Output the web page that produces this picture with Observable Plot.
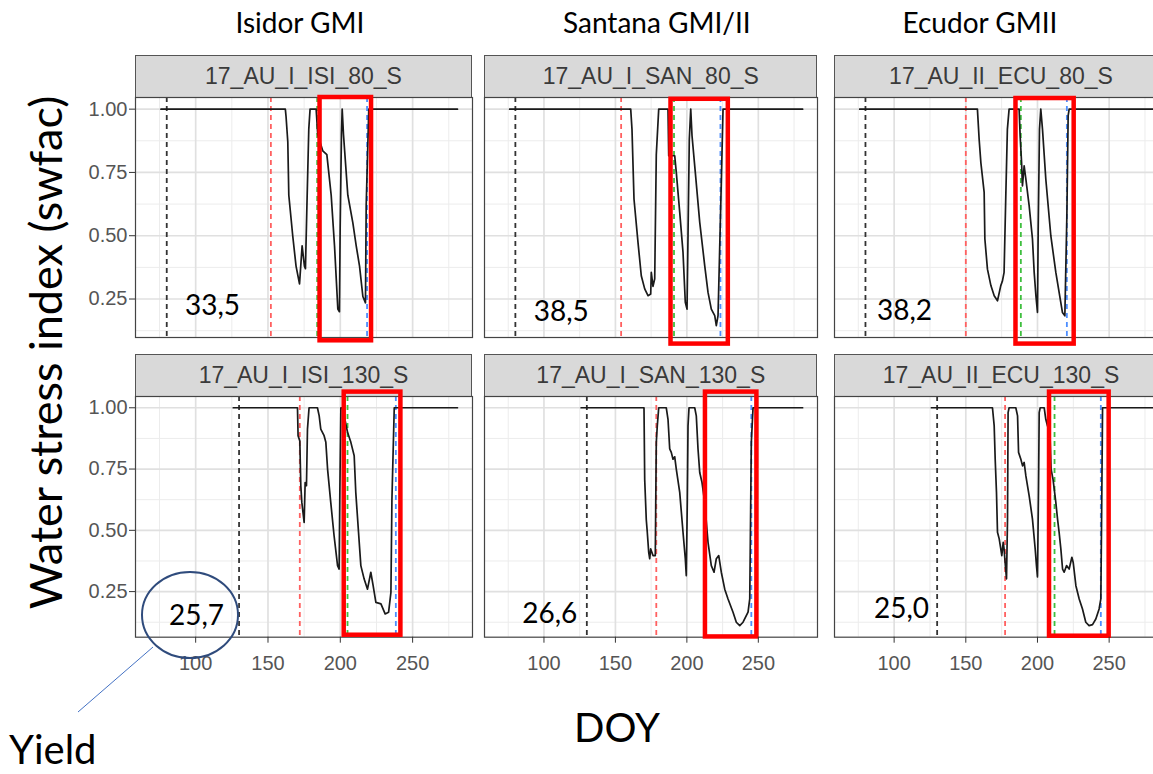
<!DOCTYPE html>
<html><head><meta charset="utf-8">
<script src="https://cdn.jsdelivr.net/npm/d3@7"></script>
<script src="https://cdn.jsdelivr.net/npm/@observablehq/plot@0.6"></script>
<style>
body{margin:0;background:#fff;}
#wrap{position:relative;width:1153px;height:774px;overflow:hidden;background:#fff;}
.strip{position:absolute;box-sizing:border-box;background:#d9d9d9;border:1px solid #555;display:flex;align-items:center;justify-content:center;font-family:"Liberation Sans",Arial,sans-serif;font-size:23px;color:#3a3a3a;white-space:nowrap;overflow:visible;}
.big{position:absolute;font-family:Lato,"Open Sans",sans-serif;color:#000;white-space:nowrap;line-height:1;}
.plotbox{position:absolute;}
.plotbox svg{max-width:none !important;}
</style></head><body><div id="wrap"></div>
<script>
// ---------- data ----------
const columnTitles = ["Isidor GMI", "Santana GMI/II", "Ecudor GMII"];
const panelNames = ["17_AU_I_ISI_80_S", "17_AU_I_SAN_80_S", "17_AU_II_ECU_80_S",
                    "17_AU_I_ISI_130_S", "17_AU_I_SAN_130_S", "17_AU_II_ECU_130_S"];
const yieldLabels = ["33,5", "38,5", "38,2", "25,7", "26,6", "25,0"];
const xTicks = [100, 150, 200, 250];
const xMinor = [75, 125, 175, 225, 275];
const yTicks = [0.25, 0.5, 0.75, 1.0];
const yMinor = [0.125, 0.375, 0.625, 0.875];
const sowingDOY = [80, 80, 80, 130, 130, 130];
const redLineDOY = [152, 154, 150, 172, 178.6, 177.4];
const greenLineDOY = [184, 191, 188.4, 205, 213, 211.9];
const blueLineDOY = [218.5, 223.5, 220.5, 238.4, 245.1, 244.2];
const boxStartDOY = [186, 188.9, 185, 202.7, 213, 208.4];
const boxEndDOY = [221.6, 229, 225.6, 241.9, 249, 250];
const boxLow = [0.085, 0.072, 0.072, 0.072, 0.065, 0.068];
const boxHigh = [1.046, 1.039, 1.042, 1.064, 1.064, 1.064];

const isi80 = [[76,1],[162,1],[162.5,0.97],[163.7,0.87],[164.4,0.66],[167.1,0.5],[169.4,0.38],[171.8,0.31],[173.6,0.46],[175.2,0.38],[175.9,0.37],[176.8,0.59],[178.2,0.92],[179.1,1],[183.3,1],[184.4,0.9],[187.9,0.835],[190.7,0.82],[193.7,0.66],[196,0.46],[198.3,0.21],[199.4,0.2],[199.9,0.53],[200.8,0.9],[201.3,1],[202.2,0.9],[205.2,0.66],[208.7,0.55],[211,0.46],[213.3,0.38],[215.6,0.26],[217.4,0.235],[217.9,0.62],[219.7,1],[281,1]];
const san80 = [[76,1],[160.7,1],[161.6,0.92],[163,0.645],[165.8,0.474],[168.1,0.342],[170.5,0.29],[172.8,0.263],[174.7,0.27],[175.1,0.355],[176.3,0.3],[177.5,0.33],[178.6,0.82],[180.3,1],[186.8,1],[187.3,0.816],[191.5,0.816],[192.6,0.75],[195,0.592],[197.3,0.434],[198.9,0.237],[200.1,0.21],[200.8,0.5],[201.7,0.88],[202.7,1],[203.6,0.895],[205.9,0.75],[209,0.553],[212.5,0.381],[214.8,0.276],[217.1,0.21],[219.5,0.184],[220.6,0.145],[221.8,0.184],[223.7,0.618],[225.3,1],[281,1]];
const ecu80 = [[76,1],[158.1,1],[159.3,0.881],[160.5,0.789],[162.8,0.671],[163.3,0.487],[165.1,0.368],[167.5,0.303],[169.8,0.263],[172.1,0.243],[174.4,0.303],[175.5,0.32],[176.7,0.355],[177.9,0.658],[179,0.92],[180.2,1],[187.2,1],[187.9,0.895],[188.9,0.79],[189.5,0.697],[190.7,0.776],[191.9,0.724],[194.2,0.618],[196.5,0.487],[197.7,0.355],[198.9,0.263],[200,0.197],[200.5,0.526],[201.4,0.92],[202.3,1],[203.5,0.92],[205.8,0.724],[209.3,0.5],[212.8,0.355],[215.1,0.276],[217.4,0.197],[219.1,0.184],[220.5,0.579],[221.4,0.974],[222.1,1],[281,1]];
const isi130 = [[126,1],[170.4,1],[170.8,0.886],[172,0.865],[172.7,0.682],[173.4,0.614],[175,0.532],[175.7,0.695],[176.6,0.682],[177.3,0.913],[178.4,1],[184.2,1],[185.4,0.967],[186.5,0.913],[188.8,0.886],[190,0.859],[191.2,0.75],[193.4,0.614],[195.7,0.478],[198.1,0.356],[199.2,0.342],[199.7,0.668],[200.4,1],[201.5,1],[205,0.9],[207.3,0.859],[209.6,0.804],[210.7,0.655],[212.6,0.492],[214.2,0.356],[216.5,0.301],[218.8,0.26],[221.1,0.329],[222.7,0.274],[224.6,0.206],[228.1,0.2],[231,0.159],[233.4,0.166],[235,0.247],[235.7,0.627],[237.3,1],[281,1]];
const san130 = [[126,1],[170,1],[170.5,0.706],[171.6,0.543],[172.3,0.492],[173.3,0.41],[174,0.384],[174.7,0.424],[176.3,0.397],[177.9,0.397],[178.6,0.859],[179.3,0.926],[180.3,1],[185.6,1],[186.8,0.953],[188,0.832],[189.1,0.818],[190.3,0.79],[191.5,0.8],[192.6,0.75],[195,0.655],[197.3,0.492],[198.9,0.384],[199.6,0.315],[200.3,0.614],[200.8,0.926],[201.5,1],[205.5,1],[206.6,0.967],[207.8,0.832],[209,0.736],[210.6,0.695],[212.5,0.614],[214.8,0.451],[217.1,0.356],[219,0.329],[220.6,0.384],[222.3,0.397],[224.1,0.329],[226.5,0.26],[228.8,0.22],[232.3,0.166],[234.6,0.125],[237,0.111],[239.3,0.125],[242.8,0.166],[244,0.22],[245.1,0.859],[246.3,1],[281,1]];
const ecu130 = [[126,1],[168.6,1],[169.8,0.926],[170.5,0.79],[171.4,0.655],[172.1,0.492],[173.3,0.465],[174.4,0.424],[175.1,0.397],[176.1,0.451],[176.7,0.424],[177.4,0.37],[178.4,0.302],[179.1,0.546],[179.5,0.98],[180.2,1],[184.9,1],[186.1,0.967],[186.8,0.818],[188.4,0.79],[189.6,0.763],[190.7,0.777],[191.9,0.722],[194.2,0.641],[196.5,0.546],[198.4,0.424],[199.3,0.356],[200,0.31],[200.7,0.655],[201.2,0.98],[201.9,1],[204.7,1],[205.8,0.953],[207,0.926],[208.5,0.93],[209.5,0.75],[210.9,0.706],[212.8,0.614],[214,0.546],[215.1,0.492],[216.3,0.424],[217.5,0.342],[218.6,0.329],[220.3,0.356],[222.1,0.342],[224,0.39],[224.9,0.37],[226.8,0.274],[229.1,0.22],[231.4,0.179],[233.7,0.125],[236,0.111],[238.4,0.115],[240.7,0.138],[243,0.179],[244.2,0.22],[244.9,0.655],[245.4,1],[281,1]];
const seriesList = [isi80, san80, ecu80, isi130, san130, ecu130];

// ---------- layout (pixels, styles) ----------
const colLeft = [135, 484.3, 834];
const colWidth = [337, 333, 334];
const rowTop = [96.7, 396];
const rowHeight = [240, 240.7];
const stripTop = [55, 354];
const xDomain = [58.4, 291.4];
const yDomains = [[0.098, 1.046], [0.064, 1.046]];
const yieldDx = [77, 76.7, 70, 61, 65.2, 67];
const yieldDy = [-31.7, -25, -26.7, -20.7, -23.4, -28.4];
const ML = 60, MB = 50, MT = 12, MR = 8;

const wrap = document.getElementById("wrap");

function addDiv(cls, text, css) {
  const d = document.createElement("div");
  d.className = cls;
  d.textContent = text;
  Object.assign(d.style, css);
  wrap.appendChild(d);
  return d;
}

// strips
panelNames.forEach((name, i) => {
  const r = Math.floor(i / 3), c = i % 3;
  addDiv("strip", name, {
    left: colLeft[c] + "px", top: stripTop[r] + "px",
    width: colWidth[c] + "px", height: (rowTop[r] - stripTop[r] + 1) + "px"
  });
});

// panels
panelNames.forEach((name, i) => {
  const r = Math.floor(i / 3), c = i % 3;
  const W = colWidth[c], H = rowHeight[r];
  const pts = seriesList[i].map(([doy, swfac]) => ({doy, swfac}));
  const box = [{x1: boxStartDOY[i], x2: boxEndDOY[i], y1: boxLow[i], y2: boxHigh[i]}];
  const marks = [
    Plot.ruleX(xMinor, {stroke: "#ececec", strokeWidth: 1}),
    Plot.ruleY(yMinor, {stroke: "#ececec", strokeWidth: 1}),
    Plot.ruleX(xTicks, {stroke: "#e0e0e0", strokeWidth: 1.7}),
    Plot.ruleY(yTicks, {stroke: "#e0e0e0", strokeWidth: 1.7}),
    Plot.ruleX([sowingDOY[i]], {stroke: "#333", strokeWidth: 1.8, strokeDasharray: "5,4"}),
    Plot.ruleX([redLineDOY[i]], {stroke: "#ff6060", strokeWidth: 1.8, strokeDasharray: "5,4"}),
    Plot.ruleX([greenLineDOY[i]], {stroke: "#3fbf3f", strokeWidth: 1.8, strokeDasharray: "5,4"}),
    Plot.ruleX([blueLineDOY[i]], {stroke: "#4d8eff", strokeWidth: 1.8, strokeDasharray: "5,4"}),
    Plot.line(pts, {x: "doy", y: "swfac", stroke: "#1a1a1a", strokeWidth: 1.7}),
    Plot.frame({stroke: "#444", strokeWidth: 1.2}),
    Plot.rect(box, {x1: "x1", x2: "x2", y1: "y1", y2: "y2", stroke: "#ff0000", strokeWidth: 4.5, fill: "none"}),
    Plot.text([yieldLabels[i]], {frameAnchor: "bottom-left", dx: yieldDx[i], dy: yieldDy[i], text: d => d, textAnchor: "middle", lineAnchor: "middle", fontSize: 28, fontFamily: "Lato, 'Open Sans', sans-serif", fill: "#000"})
  ];
  if (r === 1) marks.push(Plot.axisX(xTicks, {anchor: "bottom", tickSize: 6, tickPadding: 13, tickFormat: d => String(d), label: null, stroke: "#333", fill: "#555", fontSize: 20}));
  if (c === 0) marks.push(Plot.axisY(yTicks, {anchor: "left", tickSize: 6, tickPadding: 2, tickFormat: d3.format(".2f"), label: null, stroke: "#333", fill: "#555", fontSize: 20}));
  const plot = Plot.plot({
    width: ML + W + MR, height: MT + H + MB,
    marginLeft: ML, marginRight: MR, marginTop: MT, marginBottom: MB,
    style: {overflow: "visible", background: "transparent", maxWidth: "none", fontFamily: "'Liberation Sans', Arial, sans-serif", fontSize: "20px", color: "#555"},
    x: {domain: xDomain, axis: null},
    y: {domain: yDomains[r], axis: null},
    marks
  });
  const holder = document.createElement("div");
  holder.className = "plotbox";
  holder.style.left = (colLeft[c] - ML) + "px";
  holder.style.top = (rowTop[r] - MT) + "px";
  holder.style.width = (ML + W + MR) + "px";
  holder.appendChild(plot);
  wrap.appendChild(holder);
});

// column titles
const titleCenters = [300, 657, 980];
columnTitles.forEach((t, c) => {
  const d = addDiv("big", t, {top: "8px", fontSize: "28px"});
  d.style.left = (titleCenters[c] - d.offsetWidth / 2) + "px";
});
// axis titles
const yl = addDiv("big", "Water stress index (swfac)", {fontSize: "45px"});
yl.style.left = (45 - yl.offsetWidth / 2) + "px";
yl.style.top = (352 - yl.offsetHeight / 2) + "px";
yl.style.transform = "rotate(-90deg)";
const xl = addDiv("big", "DOY", {fontSize: "40px"});
xl.style.left = (617 - xl.offsetWidth / 2) + "px";
xl.style.top = (727 - xl.offsetHeight / 2) + "px";
const yld = addDiv("big", "Yield", {fontSize: "40px", lineHeight: "1.2"});
yld.style.left = "9px";
yld.style.top = (774 - yld.offsetHeight - 1) + "px";

// callout
const ns = "http://www.w3.org/2000/svg";
const ov = document.createElementNS(ns, "svg");
ov.setAttribute("width", 1153); ov.setAttribute("height", 774);
ov.style.position = "absolute"; ov.style.left = "0"; ov.style.top = "0"; ov.style.pointerEvents = "none";
const el = document.createElementNS(ns, "ellipse");
el.setAttribute("cx", 190); el.setAttribute("cy", 615); el.setAttribute("rx", 48); el.setAttribute("ry", 43);
el.setAttribute("fill", "none"); el.setAttribute("stroke", "#2f4b7c"); el.setAttribute("stroke-width", 2);
ov.appendChild(el);
const ln = document.createElementNS(ns, "line");
ln.setAttribute("x1", 153); ln.setAttribute("y1", 647); ln.setAttribute("x2", 78); ln.setAttribute("y2", 712);
ln.setAttribute("stroke", "#4472c4"); ln.setAttribute("stroke-width", 1);
ov.appendChild(ln);
wrap.appendChild(ov);
</script></body></html>
